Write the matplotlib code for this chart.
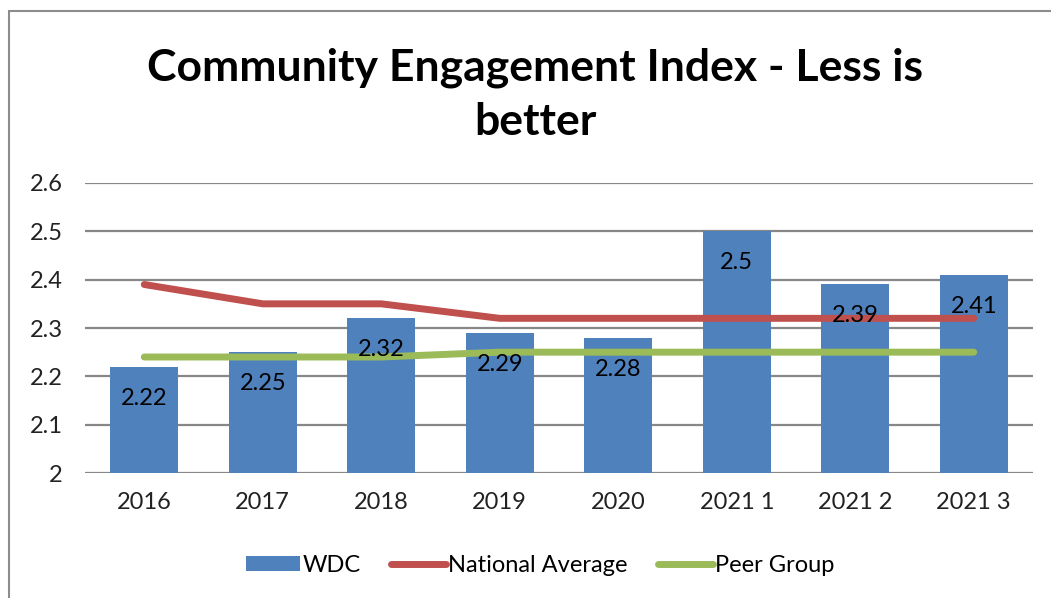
import matplotlib
matplotlib.use("Agg")
import matplotlib.pyplot as plt
import numpy as np
from matplotlib.patches import Rectangle

categories = ["2016", "2017", "2018", "2019", "2020", "2021 1", "2021 2", "2021 3"]
wdc = [2.22, 2.25, 2.32, 2.29, 2.28, 2.50, 2.39, 2.41]
national_average = [2.39, 2.35, 2.35, 2.32, 2.32, 2.32, 2.32, 2.32]
peer_group = [2.24, 2.24, 2.24, 2.25, 2.25, 2.25, 2.25, 2.25]

plt.rcParams["font.family"] = ["Lato", "DejaVu Sans"]

fig = plt.figure(figsize=(10.51, 5.98), dpi=100)
ax = fig.add_axes([85 / 1051, 1 - 473 / 598, 948 / 1051, 290 / 598])

x = np.arange(len(categories))
bars = ax.bar(x, wdc, width=0.57, color="#4F81BD", zorder=2, label="WDC")
l1, = ax.plot(x, national_average, color="#C0504D", lw=5, solid_capstyle="round",
              zorder=3, label="National Average")
l2, = ax.plot(x, peer_group, color="#9BBB59", lw=5, solid_capstyle="round",
              zorder=3, label="Peer Group")

# data labels sit a little below the top of each bar
for xi, v in zip(x, wdc):
    ax.text(xi, v - 0.065, f"{v:g}", ha="center", va="center",
            fontsize=17, color="black", zorder=5)

ax.set_xlim(-0.5, len(categories) - 0.5)
ax.set_ylim(2.0, 2.6)
ax.set_yticks([2.0, 2.1, 2.2, 2.3, 2.4, 2.5, 2.6])
ax.set_yticklabels(["2", "2.1", "2.2", "2.3", "2.4", "2.5", "2.6"])
ax.set_xticks(x)
ax.set_xticklabels(categories)
ax.tick_params(axis="both", length=0, labelsize=17, colors="#222222")
ax.tick_params(axis="y", pad=16)
ax.tick_params(axis="x", pad=14)
ax.yaxis.grid(True, color="#878787", lw=1.6, zorder=1)
ax.set_axisbelow(True)
for s in ax.spines.values():
    s.set_visible(False)

fig.text(535 / 1051, 1 - 80 / 598, "Community Engagement Index - Less is",
         ha="center", va="baseline", fontsize=32, fontweight="bold")
fig.text(535 / 1051, 1 - 135 / 598, "better",
         ha="center", va="baseline", fontsize=32, fontweight="bold")

fig.legend([bars, l1, l2], ["WDC", "National Average", "Peer Group"],
           loc="center", bbox_to_anchor=(540 / 1051, 1 - 565 / 598), ncol=3,
           frameon=False, fontsize=17, handlelength=2.3, handleheight=0.6,
           handletextpad=0.1, columnspacing=1.3)

fig.patches.append(Rectangle((9 / 1051, -0.2), 1.2, 1.2 - 11 / 598,
                             transform=fig.transFigure, fill=False,
                             edgecolor="#8c8c8c", lw=1.5))

fig.savefig("out.png", dpi=100)
